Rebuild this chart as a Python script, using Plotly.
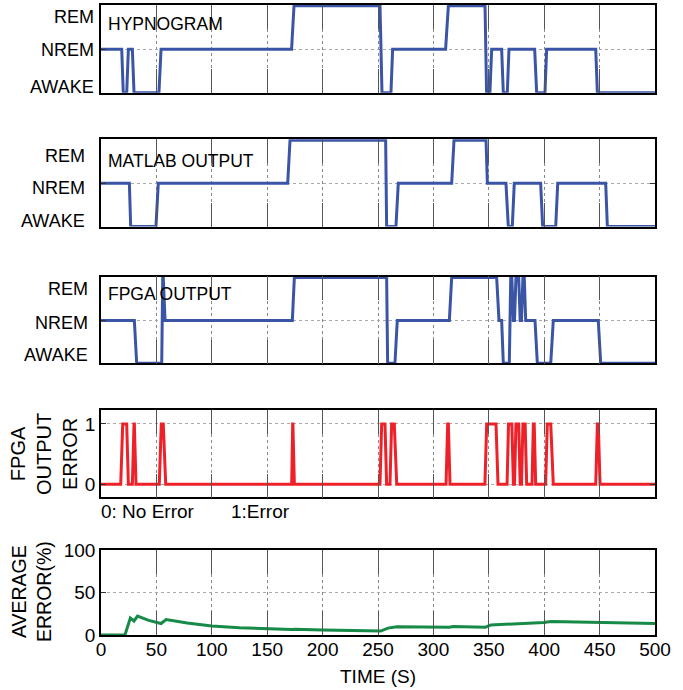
import plotly.graph_objects as go

# ---------------- data ----------------
# states: 0 = AWAKE, 1 = NREM, 2 = REM
state_labels = ["AWAKE", "NREM", "REM"]

hyp_t = [0, 18.7, 20.1, 23.2, 24.7, 28.3, 29.8, 52.3, 54.2, 172.0, 174.2, 251.8, 253.6,
         261.7, 263.2, 311.0, 313.5, 346.6, 348.0, 351.0, 352.6, 361.6, 363.1, 366.7,
         368.2, 391.4, 393.2, 400.7, 402.2, 446.5, 448.0, 500]
hyp_s = [1, 1, 0, 0, 1, 1, 0, 0, 1, 1, 2, 2, 0, 0, 1, 1, 2, 2, 0, 0, 1, 1, 0, 0,
         1, 1, 0, 0, 1, 1, 0, 0]

mat_t = [0, 25.6, 26.8, 49.6, 51.7, 168.5, 170.6, 256.9, 257.8, 266.2, 268.3, 316.5,
         318.6, 347.5, 348.7, 365.5, 367.6, 371.2, 373.0, 396.8, 398.6, 410.4, 412.2,
         455.5, 457.0, 500]
mat_s = [1, 1, 0, 0, 1, 1, 2, 2, 0, 0, 1, 1, 2, 2, 1, 1, 0, 0, 1, 1, 0, 0, 1, 1, 0, 0]

fpga_t = [0, 30.1, 32.2, 54.8, 55.7, 56.2, 57.8, 172.7, 174.5, 257.8, 258.7, 265.3,
          267.4, 314.4, 316.5, 357.1, 359.2, 361.6, 363.1, 368.5, 369.8, 370.8, 372.2,
          373.2, 374.5, 377.0, 378.3, 379.5, 380.8, 382.0, 383.3, 391.7, 393.8, 405.9,
          408.2, 448.8, 451.0, 500]
fpga_s = [1, 1, 0, 0, 2, 2, 1, 1, 2, 2, 0, 0, 1, 1, 2, 2, 1, 1, 0, 0, 2, 2, 1, 1,
          2, 2, 1, 1, 2, 2, 1, 1, 0, 0, 1, 1, 0, 0]

err_t = [0, 17.8, 19.6, 23.2, 24.7, 28.3, 29.8, 30.1, 31.6, 52.6, 54.4, 56.2, 58.4,
         172.1, 173.0, 173.2, 174.5, 251.8, 253.3, 256.3, 257.8, 260.8, 262.3, 264.7,
         266.9, 311.4, 312.9, 313.5, 315.0, 346.5, 348.1, 356.5, 358.3, 366.5, 367.8,
         370.8, 372.2, 373.2, 374.5, 377.0, 378.3, 379.5, 380.8, 382.8, 384.2, 389.0,
         390.2, 391.0, 392.3, 401.3, 402.8, 405.9, 408.2, 446.5, 448.0, 448.8, 450.4, 500]
err_v = [0, 0, 1, 1, 0, 0, 1, 1, 0, 0, 1, 1, 0,
         0, 1, 1, 0, 0, 1, 1, 0, 0, 1, 1,
         0, 0, 1, 1, 0, 0, 1, 1, 0, 0, 1,
         1, 0, 0, 1, 1, 0, 0, 1, 1, 0, 0,
         1, 1, 0, 0, 1, 1, 0, 0, 1, 1, 0, 0]

avg_t = [0, 21.6, 26.5, 29.8, 33.0, 43.0, 54.2, 58.8, 77.8, 100, 125, 150, 172, 175,
         200, 252.4, 259, 267, 300, 314.5, 317.7, 347, 352, 368, 381, 399.7, 406, 450, 500]
avg_v = [0, 0, 20.0, 16.5, 22.3, 17.2, 13.5, 18.1, 14.2, 10.6, 8.6, 7.3, 6.5, 6.9,
         5.8, 4.6, 8.1, 9.6, 9.2, 9.2, 10.0, 9.2, 11.9, 12.7, 14.2, 14.6, 15.8, 14.6, 13.5]

x_ticks = [0, 50, 100, 150, 200, 250, 300, 350, 400, 450, 500]
err_ticks = [0, 1]
avg_ticks = [0, 50, 100]

# ---------------- style ----------------
FONT = "Liberation Sans, Arial, sans-serif"
BLUE = "#3a55a6"
RED = "#ee2028"
GREEN = "#168a47"
W, H = 683, 690
ML, MR, MT, MB = 101, 28, 4, 55
PH = H - MT - MB
PW = W - ML - MR


def ydom(top, bot):
    return [(H - MB - bot) / PH, (H - MB - top) / PH]


def px_x(px):
    return (px - ML) / PW


def px_y(py):
    return (H - MB - py) / PH


panels = [(5.0, 92.7), (139.3, 226.5), (276.7, 363.3), (410, 497.3), (550, 635)]

fig = go.Figure()
series = [(hyp_t, hyp_s, BLUE), (mat_t, mat_s, BLUE), (fpga_t, fpga_s, BLUE),
          (err_t, err_v, RED), (avg_t, avg_v, GREEN)]
for i, (xs, ys, col) in enumerate(series):
    k = "" if i == 0 else str(i + 1)
    fig.add_trace(go.Scatter(x=xs, y=ys, mode="lines", line=dict(color=col, width=3),
                             xaxis="x" + k, yaxis="y" + k, showlegend=False,
                             hoverinfo="skip"))

layout = dict(template="none", width=W, height=H,
              margin=dict(l=ML, r=MR, t=MT, b=MB, pad=0, autoexpand=False),
              paper_bgcolor="white", plot_bgcolor="white",
              font=dict(family=FONT, size=19, color="black"), showlegend=False)

for i, (top, bot) in enumerate(panels):
    k = "" if i == 0 else str(i + 1)
    last = (i == 4)
    layout["xaxis" + k] = dict(
        domain=[0, 1], anchor="y" + k, range=[0, 500], tickvals=x_ticks,
        showticklabels=last, ticks="inside", ticklen=24, tickcolor="#555", tickwidth=1,
        showline=True, linecolor="black", linewidth=1.5, mirror="ticks",
        showgrid=True, gridcolor="#888", griddash="dot", gridwidth=1,
        zeroline=False, automargin=False, tickfont=dict(size=19, family=FONT),
        ticklabelstandoff=-4)
    if i < 3:
        yd = dict(range=[0, 2.02], tickvals=[0, 1, 2], showticklabels=False)
    elif i == 3:
        yd = dict(range=[-0.216, 1.232], tickvals=err_ticks,
                  ticktext=[str(v) for v in err_ticks], showticklabels=True)
    else:
        yd = dict(range=[0, 100], tickvals=avg_ticks,
                  ticktext=[str(v) for v in avg_ticks], showticklabels=True)
    yd.update(domain=ydom(top, bot), anchor="x" + k, ticks="inside", ticklen=5,
              tickcolor="#333", showline=True, linecolor="black", linewidth=1.5,
              mirror="ticks", showgrid=True, gridcolor="#aaa", griddash="dot",
              zeroline=False, automargin=False, tickfont=dict(size=19, family=FONT))
    layout["yaxis" + k] = yd

fig.update_layout(**layout)

ann = []
# state labels
label_pos = [
    ("y", 96, [0.13, 0.98, 1.74]),
    ("y2", 87, [0.12, 0.90, 1.64]),
    ("y3", 90, [0.19, 0.95, 1.74]),
]
for yref, right, pos in label_pos:
    for name, yv in zip(state_labels, pos):
        ann.append(dict(text=name, xref="paper", yref=yref, x=px_x(right), y=yv,
                        xanchor="right", yanchor="middle", showarrow=False,
                        font=dict(size=18, family=FONT)))

titles = [("HYPNOGRAM", "y", 1.576), ("MATLAB OUTPUT", "y2", 1.525), ("FPGA OUTPUT", "y3", 1.62)]
for txt, yref, yv in titles:
    ann.append(dict(text=txt, xref="paper", yref=yref, x=px_x(106), y=yv,
                    xanchor="left", yanchor="middle", showarrow=False,
                    font=dict(size=17.5, family=FONT)))

ann.append(dict(text="FPGA<br>OUTPUT<br>ERROR", xref="paper", yref="paper",
                x=px_x(44), y=px_y(454), textangle=-90, xanchor="center",
                yanchor="middle", showarrow=False, font=dict(size=20, family=FONT)))
ann.append(dict(text="AVERAGE<br>ERROR(%)", xref="paper", yref="paper",
                x=px_x(31), y=px_y(592), textangle=-90, xanchor="center",
                yanchor="middle", showarrow=False, font=dict(size=19.5, family=FONT)))
ann.append(dict(text="0: No Error", xref="paper", yref="paper", x=px_x(99), y=px_y(511),
                xanchor="left", yanchor="middle", showarrow=False,
                font=dict(size=19, family=FONT)))
ann.append(dict(text="1:Error", xref="paper", yref="paper", x=px_x(229), y=px_y(511),
                xanchor="left", yanchor="middle", showarrow=False,
                font=dict(size=19, family=FONT)))
ann.append(dict(text="TIME (S)", xref="paper", yref="paper", x=0.5, y=px_y(677),
                xanchor="center", yanchor="middle", showarrow=False,
                font=dict(size=19, family=FONT)))
fig.update_layout(annotations=ann)

fig.write_html("out.html", config={"displayModeBar": False},
               post_script="document.body.style.margin='0';document.body.style.padding='0';")
